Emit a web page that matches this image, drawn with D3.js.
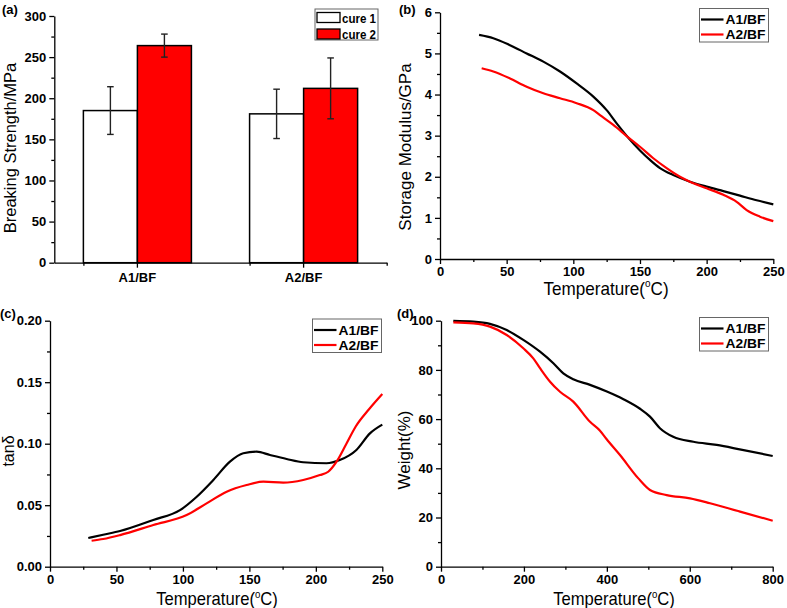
<!DOCTYPE html>
<html><head><meta charset="utf-8">
<script src="https://cdn.jsdelivr.net/npm/d3@7"></script>
<style>
html,body{margin:0;padding:0;background:#fff;}
svg{display:block;font-family:"Liberation Sans",Arial,sans-serif;}
.tick text{font-weight:bold;font-size:13px;fill:#000;}
</style></head><body>
<svg id="c" width="787" height="608"></svg>
<script>
// ---------- DATA ----------
const barCategories = ["A1/BF", "A2/BF"];
const barSeries = ["cure 1", "cure 2"];
const cure1Values = [185, 181];
const cure1Errors = [29, 30];
const cure2Values = [264, 212];
const cure2Errors = [14, 37];
const barYTicks = [0, 50, 100, 150, 200, 250, 300];

const lineSeries = ["A1/BF", "A2/BF"];

const modulusA1 = [[29.3,5.45],[40,5.37],[52.5,5.20],[65,5.00],[77.5,4.80],[90,4.56],[102.5,4.27],[115,3.95],[125,3.62],[132.5,3.30],[141.25,2.95],[150,2.64],[157.5,2.41],[165,2.21],[175,2.04],[187.5,1.88],[200,1.76],[212.5,1.65],[225,1.54],[237.5,1.43],[250,1.33]];
const modulusA2 = [[31.25,4.64],[40,4.56],[52.5,4.39],[65,4.19],[77.5,4.03],[90,3.91],[102.5,3.79],[115,3.62],[120,3.50],[130,3.26],[140,2.99],[150,2.73],[160,2.45],[170,2.21],[180,2.00],[187.5,1.88],[200,1.72],[212.5,1.56],[222.5,1.39],[230,1.19],[240,1.03],[250,0.92]];
const modulusYTicks = [0,1,2,3,4,5,6];
const tempXTicks = [0,50,100,150,200,250];

const tanA1 = [[28.8,0.0233],[40,0.026],[52.7,0.029],[77.7,0.038],[97.8,0.046],[110.4,0.0569],[122.9,0.0705],[135.4,0.0854],[145.4,0.0922],[155.5,0.0935],[165.5,0.0908],[178,0.0876],[190.5,0.0849],[208,0.0841],[218,0.0867],[230.5,0.0949],[240.7,0.1084],[250,0.1155]];
const tanA2 = [[31.3,0.0211],[40,0.0225],[52.7,0.0257],[77.7,0.0339],[102.8,0.042],[117.8,0.0515],[132.9,0.061],[147.9,0.0664],[160.5,0.0691],[175.5,0.0683],[190.5,0.0705],[203,0.0745],[209.3,0.0772],[215.6,0.0854],[223,0.100],[230,0.114],[240,0.128],[250,0.1404]];
const tanYTicks = [0,0.05,0.10,0.15,0.20];

const weightA1 = [[29.7,99.9],[78,99.6],[118,98.7],[158.5,96.2],[198.5,92.2],[238.8,87.4],[271,82.7],[295,78.6],[319,76.2],[359.4,73.9],[400,71.2],[440,68.1],[480,64.2],[504,61.0],[528,56.3],[560,52.8],[608.7,50.8],[665,49.5],[720.5,47.7],[800,45.0]];
const weightA2 = [[29.7,99.3],[78,98.9],[118,97.6],[158.5,94.2],[198.5,88.8],[222.6,84.7],[238.8,80.7],[263,75.2],[287,71.1],[319,67.1],[359.4,58.9],[383.5,55.3],[399.6,51.8],[431.7,45.4],[476,35.9],[504,31.2],[544.3,29.1],[600.6,27.8],[648.9,25.8],[721.2,22.4],[800,18.7]];
const weightYTicks = [0,20,40,60,80,100];
const weightXTicks = [0,200,400,600,800];

// ---------- DRAW ----------
const svg = d3.select("#c");
const AX = 1.3;

function styleAxis(g){
  g.select(".domain").attr("stroke","#000").attr("stroke-width",AX);
  g.selectAll(".tick line").attr("stroke","#000").attr("stroke-width",AX);
}
function minorAxis(g, axisFn, scale, vals, size){
  const a = axisFn(scale).tickValues(vals).tickFormat("").tickSize(size).tickSizeOuter(0);
  g.call(a); g.select(".domain").remove();
  g.selectAll(".tick line").attr("stroke","#000").attr("stroke-width",AX);
}
function tempTitle(g, x, y, fs){
  const t = g.append("text").attr("transform",`translate(${x},${y}) scale(0.95,1)`).attr("text-anchor","middle")
    .attr("font-size",fs).attr("fill","#000");
  t.append("tspan").text("Temperature(");
  t.append("tspan").attr("font-size",fs*0.58).attr("dy",-fs*0.42).text("o");
  t.append("tspan").attr("dy",fs*0.42).text("C)");
}
function yTitle(x, y, text, size){
  svg.append("text").attr("transform",`translate(${x},${y}) rotate(-90)`)
    .attr("text-anchor","middle").attr("font-size",size||17).attr("fill","#000").text(text);
}
function panelLabel(x,y,t){
  svg.append("text").attr("x",x).attr("y",y).attr("font-size",13).attr("font-weight","bold").text(t);
}

// ----- Panel (a) -----
(function(){
  const x0 = 54.3, x1 = 386.7, yTop = 16, yBot = 262.7;
  const x = d3.scaleBand().domain(barCategories).range([x0,x1]).padding(0);
  const y = d3.scaleLinear().domain([0,300]).range([yBot,yTop]);
  const groupW = x.bandwidth()*0.65;
  const sub = d3.scaleBand().domain(barSeries).range([0,groupW]);
  const data = barCategories.map((c,i)=>({cat:c, vals:[
    {s:barSeries[0], v:cure1Values[i], e:cure1Errors[i]},
    {s:barSeries[1], v:cure2Values[i], e:cure2Errors[i]}]}));
  const fills = {"cure 1":"#ffffff","cure 2":"#ff0000"};
  const g = svg.append("g");
  data.forEach(d=>{
    const gx = x(d.cat) + (x.bandwidth()-groupW)/2;
    d.vals.forEach(b=>{
      g.append("rect").attr("x",gx+sub(b.s)).attr("y",y(b.v))
        .attr("width",sub.bandwidth()).attr("height",y(0)-y(b.v))
        .attr("fill",fills[b.s]).attr("stroke","#000").attr("stroke-width",1.5);
    });
    d.vals.forEach(b=>{
      const cx = gx+sub(b.s)+sub.bandwidth()/2;
      g.append("line").attr("x1",cx).attr("x2",cx).attr("y1",y(b.v+b.e)).attr("y2",y(b.v-b.e))
        .attr("stroke","#222").attr("stroke-width",1.4);
      [b.v+b.e,b.v-b.e].forEach(v=>g.append("line").attr("x1",cx-3.3).attr("x2",cx+3.3)
        .attr("y1",y(v)).attr("y2",y(v)).attr("stroke","#222").attr("stroke-width",1.4));
    });
  });
  const ya = svg.append("g").attr("transform",`translate(${x0},0)`)
    .call(d3.axisLeft(y).tickValues(barYTicks).tickSize(5).tickPadding(3).tickSizeOuter(0));
  styleAxis(ya);
  minorAxis(svg.append("g").attr("transform",`translate(${x0},0)`), d3.axisLeft, y, d3.range(25,300,50), 3);
  const xa = svg.append("g").attr("transform",`translate(0,${yBot})`)
    .call(d3.axisBottom(x).tickSize(5).tickPadding(5).tickSizeOuter(0));
  styleAxis(xa);
  xa.selectAll(".tick text").attr("font-size",12);
  const minorX = d3.scaleLinear().domain([x0,x1]).range([x0,x1]);
  minorAxis(svg.append("g").attr("transform",`translate(0,${yBot})`), d3.axisBottom, minorX,
    barCategories.map(c=>x(c)+(x.bandwidth()-groupW)/2).concat([x1]), 3);
  yTitle(16, 148, "Breaking Strength/MPa", 16.5);
  panelLabel(2, 14, "(a)");
  const lg = svg.append("g");
  lg.append("rect").attr("x",315).attr("y",9).attr("width",63).attr("height",31)
    .attr("fill","#fff").attr("stroke","#666").attr("stroke-width",1);
  barSeries.forEach((s,i)=>{
    lg.append("rect").attr("x",317).attr("y",12.5+i*16.5).attr("width",23).attr("height",10)
      .attr("fill",fills[s]).attr("stroke","#000").attr("stroke-width",1.3);
    lg.append("text").attr("x",342).attr("y",22.5+i*16.5).attr("font-size",13).attr("font-weight","bold")
      .attr("textLength",34).attr("lengthAdjust","spacingAndGlyphs").text(s);
  });
})();

// ----- line panels -----
function linePanel(o){
  const x = d3.scaleLinear().domain(o.xDom).range([o.x0,o.x1]);
  const y = d3.scaleLinear().domain(o.yDom).range([o.yBot,o.yTop]);
  const ya = svg.append("g").attr("transform",`translate(${o.x0},0)`)
    .call(d3.axisLeft(y).tickValues(o.yTicks).tickSize(5).tickPadding(3).tickSizeOuter(0).tickFormat(o.yFmt));
  styleAxis(ya);
  minorAxis(svg.append("g").attr("transform",`translate(${o.x0},0)`), d3.axisLeft, y, o.yMinor, 3);
  const xa = svg.append("g").attr("transform",`translate(0,${o.yBot})`)
    .call(d3.axisBottom(x).tickValues(o.xTicks).tickSize(5).tickPadding(3).tickSizeOuter(0).tickFormat(d3.format("d")));
  styleAxis(xa);
  minorAxis(svg.append("g").attr("transform",`translate(0,${o.yBot})`), d3.axisBottom, x, o.xMinor, 3);
  const line = d3.line().x(d=>x(d[0])).y(d=>y(d[1])).curve(d3.curveMonotoneX);
  const colors = ["#000000","#ff0000"];
  o.series.forEach((s,i)=>{
    svg.append("path").datum(s).attr("d",line).attr("fill","none")
      .attr("stroke",colors[i]).attr("stroke-width",2.2).attr("stroke-linejoin","round");
  });
  const lg = svg.append("g");
  lg.append("rect").attr("x",o.lx).attr("y",o.ly).attr("width",69).attr("height",33.5)
    .attr("fill","#fff").attr("stroke","#666").attr("stroke-width",1);
  lineSeries.forEach((s,i)=>{
    const yy = o.ly+11+i*15;
    lg.append("line").attr("x1",o.lx+1.5).attr("x2",o.lx+24).attr("y1",yy).attr("y2",yy)
      .attr("stroke",colors[i]).attr("stroke-width",2.2);
    lg.append("text").attr("x",o.lx+26).attr("y",yy+4.5).attr("font-size",13).attr("font-weight","bold")
      .attr("textLength",40).attr("lengthAdjust","spacingAndGlyphs").text(s);
  });
  tempTitle(svg, o.tx, o.ty, o.tfs);
}

linePanel({x0:440,x1:773.3,yTop:12.3,yBot:259,xDom:[0,250],yDom:[0,6],
  yTicks:modulusYTicks,yMinor:d3.range(0.5,6,1),yFmt:d3.format("d"),xTicks:tempXTicks,xMinor:d3.range(25,250,50),
  series:[modulusA1,modulusA2],lx:699.5,ly:8.5,tx:606,ty:295,tfs:18});
yTitle(411, 147, "Storage Modulus/GPa", 17);
panelLabel(399, 14, "(b)");

linePanel({x0:50,x1:382.3,yTop:320.7,yBot:566.7,xDom:[0,250],yDom:[0,0.2],
  yTicks:tanYTicks,yMinor:d3.range(0.025,0.2,0.05),yFmt:d3.format(".2f"),xTicks:tempXTicks,xMinor:d3.range(25,250,50),
  series:[tanA1,tanA2],lx:312.5,ly:319,tx:217,ty:605,tfs:17.5});
yTitle(14, 451, "tanδ", 16);
panelLabel(0, 318, "(c)");

linePanel({x0:441,x1:772.7,yTop:320.7,yBot:566.7,xDom:[0,800],yDom:[0,100],
  yTicks:weightYTicks,yMinor:d3.range(10,100,20),yFmt:d3.format("d"),xTicks:weightXTicks,xMinor:d3.range(100,800,200),
  series:[weightA1,weightA2],lx:699.5,ly:317.5,tx:614,ty:605,tfs:17.5});
yTitle(410, 450, "Weight(%)", 17);
panelLabel(397, 318, "(d)");
</script>
</body></html>
